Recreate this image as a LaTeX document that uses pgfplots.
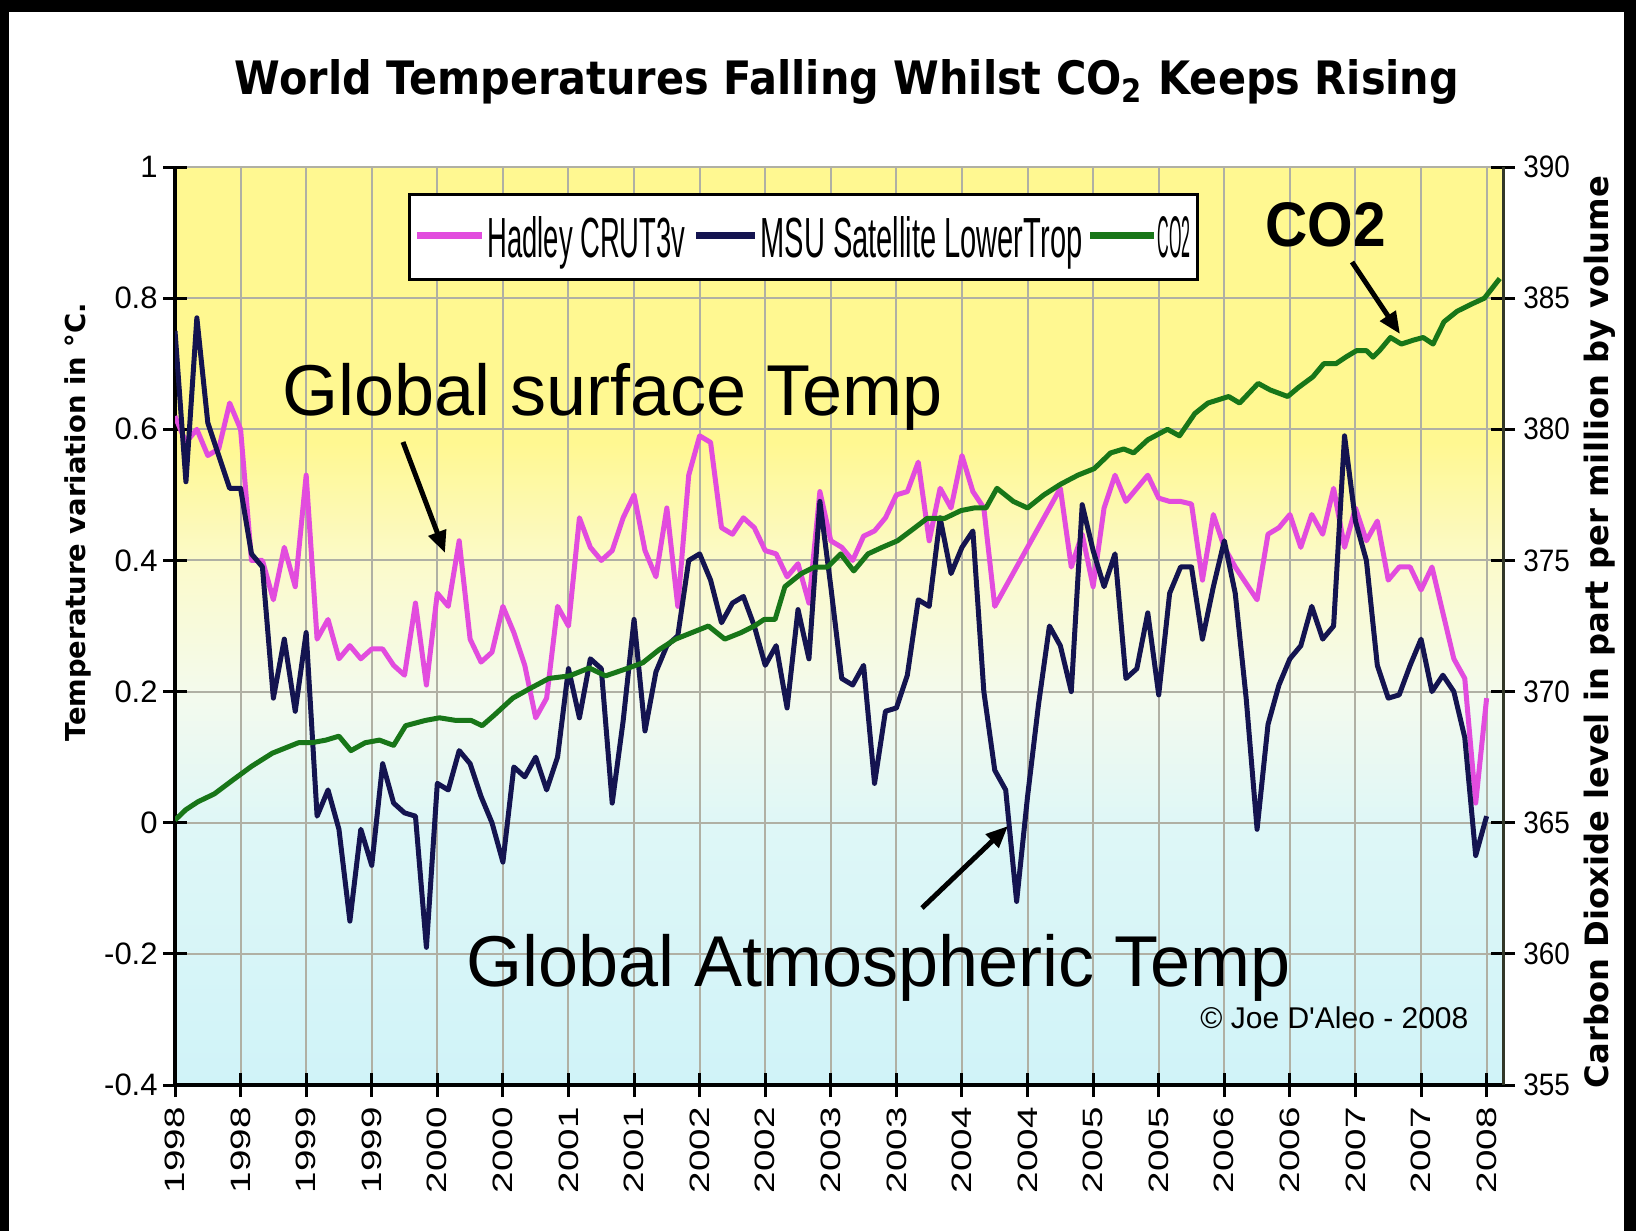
\documentclass[border=0pt]{standalone}
\usepackage{pgfplots}
\pgfplotsset{compat=1.18}
\usepackage{pgfplotstable}
\usepackage{graphicx}
\usepackage{fontspec}
\setmainfont{Liberation Sans}
\newfontfamily\verdana{DejaVu Sans}
\usetikzlibrary{arrows.meta}

\definecolor{hadley}{RGB}{226,76,222}
\definecolor{msu}{RGB}{20,20,80}
\definecolor{cotwo}{RGB}{24,118,24}
\definecolor{gridgray}{RGB}{176,176,164}
\definecolor{raxis}{RGB}{50,55,40}
\definecolor{bgyel}{RGB}{255,248,145}
\definecolor{bgpale}{RGB}{251,250,205}
\definecolor{bgwhite}{RGB}{243,250,238}
\definecolor{bgcyan}{RGB}{222,247,247}
\definecolor{bgcyanb}{RGB}{208,243,248}

\pgfdeclareverticalshading{plotbg}{100bp}{color(0bp)=(bgcyanb); color(25bp)=(bgcyanb); color(39bp)=(bgcyan); color(46bp)=(bgwhite); color(53bp)=(bgpale); color(60bp)=(bgyel); color(75bp)=(bgyel); color(100bp)=(bgyel)}

\newcommand\xl[1]{\scalebox{1.38}[1]{#1}}
\newcommand\rl[1]{\scalebox{0.9}[1]{#1}}

% monthly values, month 0 = Feb 1998
\pgfplotstableread{
m hadley msu
0 0.62 0.75
1 0.58 0.52
2 0.60 0.77
3 0.56 0.61
4 0.57 0.56
5 0.64 0.51
6 0.60 0.51
7 0.40 0.41
8 0.40 0.39
9 0.34 0.19
10 0.42 0.28
11 0.36 0.17
12 0.53 0.29
13 0.28 0.01
14 0.31 0.05
15 0.25 -0.01
16 0.27 -0.15
17 0.25 -0.01
18 0.265 -0.065
19 0.265 0.09
20 0.24 0.03
21 0.225 0.015
22 0.335 0.01
23 0.21 -0.19
24 0.35 0.06
25 0.33 0.05
26 0.43 0.11
27 0.28 0.09
28 0.245 0.04
29 0.26 0.00
30 0.33 -0.06
31 0.29 0.085
32 0.24 0.07
33 0.16 0.10
34 0.19 0.05
35 0.33 0.10
36 0.30 0.235
37 0.465 0.16
38 0.42 0.25
39 0.40 0.235
40 0.415 0.03
41 0.465 0.155
42 0.50 0.31
43 0.415 0.14
44 0.375 0.23
45 0.48 0.27
46 0.33 0.285
47 0.53 0.40
48 0.59 0.41
49 0.58 0.37
50 0.45 0.305
51 0.44 0.335
52 0.465 0.345
53 0.45 0.30
54 0.415 0.24
55 0.41 0.27
56 0.375 0.175
57 0.395 0.325
58 0.335 0.25
59 0.505 0.49
60 0.43 0.36
61 0.42 0.22
62 0.40 0.21
63 0.437 0.24
64 0.445 0.06
65 0.465 0.17
66 0.50 0.175
67 0.505 0.225
68 0.55 0.34
69 0.43 0.33
70 0.51 0.465
71 0.48 0.38
72 0.56 0.42
73 0.505 0.445
74 0.48 0.20
75 0.33 0.08
76 0.36 0.05
77 0.39 -0.12
78 0.42 0.04
79 0.45 0.18
80 0.48 0.30
81 0.51 0.27
82 0.39 0.20
83 0.44 0.485
84 0.36 0.415
85 0.48 0.36
86 0.53 0.41
87 0.49 0.22
88 0.51 0.235
89 0.53 0.32
90 0.495 0.195
91 0.49 0.35
92 0.49 0.39
93 0.486 0.39
94 0.37 0.28
95 0.47 0.36
96 0.42 0.43
97 0.39 0.35
98 0.365 0.19
99 0.34 -0.01
100 0.44 0.15
101 0.45 0.21
102 0.47 0.25
103 0.42 0.27
104 0.47 0.33
105 0.44 0.28
106 0.51 0.30
107 0.42 0.59
108 0.48 0.46
109 0.43 0.40
110 0.46 0.24
111 0.37 0.19
112 0.39 0.195
113 0.39 0.24
114 0.355 0.28
115 0.39 0.20
116 0.32 0.225
117 0.25 0.20
118 0.22 0.13
119 0.03 -0.05
120 0.19 0.01
}\temps

\pgfplotstableread{
m ppm
0 365.1
1 365.5
2.1 365.8
3.6 366.1
5.2 366.6
7 367.15
8.9 367.65
10.1 367.85
11.3 368.05
12.5 368.05
13.8 368.15
15 368.3
16.1 367.75
17.4 368.05
18.7 368.15
20 367.95
21.1 368.7
22.9 368.9
24.2 369.0
25.7 368.9
27.1 368.9
28.1 368.7
29.2 369.1
30.9 369.75
32.4 370.1
34.2 370.5
36.1 370.6
37.9 370.9
39.4 370.6
41.5 370.9
42.8 371.1
44.3 371.6
45.8 372.0
47.3 372.25
48.8 372.5
50.3 372.0
51.8 372.25
53 372.5
53.9 372.75
54.9 372.75
55.8 374.0
57.3 374.5
58.5 374.75
59.7 374.75
60.9 375.25
62.1 374.6
63.4 375.25
64.7 375.5
66.1 375.75
67.7 376.25
68.8 376.6
70.4 376.6
71.9 376.9
73.1 377.0
74.2 377.0
75.2 377.75
76.7 377.25
78 377.0
79.5 377.5
81 377.9
82.6 378.25
84.1 378.5
85.6 379.1
86.8 379.25
87.7 379.1
89 379.6
90.8 380.0
91.9 379.75
93.3 380.6
94.5 381.0
96.4 381.25
97.4 381.0
99.1 381.75
100.2 381.5
101.8 381.25
102.8 381.6
104.1 382.0
105.1 382.5
106.2 382.5
107.1 382.75
108.1 383.0
109 383.0
109.6 382.75
110.2 383.0
111.2 383.5
112.2 383.25
113.3 383.4
114.2 383.5
115.1 383.25
116.1 384.1
117.3 384.5
118.5 384.75
119.8 385.0
121.2 385.75
}\cotwo

\begin{document}
\begin{tikzpicture}
% the frame and the plot background, in pixels of the 1636x1231 picture from its top left
\begin{scope}[x=0.5pt,y=-0.5pt]
\path[use as bounding box] (0,0) rectangle (1636,1231);
\fill[white] (0,0) rectangle (1636,1231);
\fill[black] (0,0) rectangle (1636,12);
\fill[black] (0,0) rectangle (9,1231);
\fill[black] (1624,0) rectangle (1636,1231);
\shade[shading=plotbg] (175,167) rectangle (1503,1085);
\end{scope}

\begin{axis}[
    at={(87.5pt,-542.5pt)}, anchor=south west,
    scale only axis, width=664pt, height=459pt,
    xmin=0, xmax=121.5, ymin=-0.4, ymax=1,
    axis x line*=bottom, axis y line*=left,
    axis line style={black, line width=2pt},
    xtick={0,6,...,120},
    xticklabels={\xl{1998},\xl{1998},\xl{1999},\xl{1999},\xl{2000},\xl{2000},\xl{2001},\xl{2001},\xl{2002},\xl{2002},\xl{2003},\xl{2003},\xl{2004},\xl{2004},\xl{2005},\xl{2005},\xl{2006},\xl{2006},\xl{2007},\xl{2007},\xl{2008}},
    ytick={-0.4,-0.2,0,0.2,0.4,0.6,0.8,1},
    yticklabels={-0.4,-0.2,0,0.2,0.4,0.6,0.8,1},
    tick align=center, major tick length=12pt,
    tick style={black, line width=1.5pt},
    grid=major, major grid style={draw=gridgray, line width=1pt},
    yticklabel shift=2.5pt, xticklabel shift=5pt,
    yticklabel style={font=\fontsize{15.5}{16}\selectfont, anchor=east, inner sep=0pt},
    xticklabel style={font=\fontsize{14}{14}\selectfont, rotate=90, anchor=east, inner sep=0pt},
    line join=round,
]
\addplot[hadley, line width=2.5pt] table[x=m, y=hadley] {\temps};
\addplot[msu, line width=2.5pt] table[x=m, y=msu] {\temps};
\end{axis}

\begin{axis}[
    at={(87.5pt,-542.5pt)}, anchor=south west,
    scale only axis, width=664pt, height=459pt,
    xmin=0, xmax=121.5, ymin=355, ymax=390,
    axis x line=none, axis y line*=right,
    axis line style={raxis, line width=1.5pt},
    ytick={355,360,365,370,375,380,385,390},
    yticklabels={\rl{355},\rl{360},\rl{365},\rl{370},\rl{375},\rl{380},\rl{385},\rl{390}},
    tick align=center, major tick length=12pt,
    tick style={black, line width=1.5pt},
    yticklabel shift=4pt,
    yticklabel style={font=\fontsize{15.5}{16}\selectfont, anchor=west, inner sep=0pt},
    line join=round,
]
\addplot[cotwo, line width=2.5pt] table[x=m, y=ppm] {\cotwo};
\end{axis}

\begin{scope}[x=0.5pt,y=-0.5pt]
% legend
\draw[black, line width=1.5pt, fill=white] (409,194) rectangle (1197,279);
\draw[hadley, line width=3.5pt] (417,235) -- (482,235);
\draw[msu, line width=3.5pt] (696,235) -- (755,235);
\draw[cotwo, line width=3.5pt] (1090,235) -- (1154,235);
\node[anchor=base west, inner sep=0pt] at (487,257) {\resizebox{99pt}{20.5pt}{Hadley CRUT3v}};
\node[anchor=base west, inner sep=0pt] at (760,257) {\resizebox{161pt}{20.5pt}{MSU Satellite LowerTrop}};
\node[anchor=base west, inner sep=0pt] at (1157,257) {\resizebox{16.5pt}{20.5pt}{CO2}};

% titles
\node[anchor=base, inner sep=0pt] at (847,94) {\resizebox{612pt}{17.5pt}{\verdana\bfseries World Temperatures Falling Whilst CO\textsubscript{2} Keeps Rising}};
\node[rotate=90, inner sep=0pt] at (78,522) {\resizebox{219pt}{!}{\verdana\bfseries Temperature variation in °C.}};
\node[rotate=90, inner sep=0pt] at (1600,632) {\resizebox{456pt}{!}{\verdana\bfseries Carbon Dioxide level in part per million by volume}};

% annotations
\node[anchor=base west, inner sep=0pt, font=\fontsize{36}{40}\selectfont] at (282,415) {Global surface Temp};
\node[anchor=base west, inner sep=0pt, font=\fontsize{36}{40}\selectfont] at (466,986) {Global Atmospheric Temp};
\node[anchor=base west, inner sep=0pt, font=\fontsize{31.5}{36}\selectfont\bfseries] at (1265,246) {\scalebox{0.93}[1]{CO2}};
\node[anchor=base west, inner sep=0pt, font=\fontsize{15}{18}\selectfont] at (1200,1028) {\textcopyright\ Joe D\textquotesingle Aleo - 2008};
\draw[-{Triangle[length=11pt,width=9pt]}, line width=2.5pt] (403,442) -- (445,553);
\draw[-{Triangle[length=11pt,width=9pt]}, line width=2.5pt] (922,908) -- (1008,826);
\draw[-{Triangle[length=11pt,width=9pt]}, line width=2.5pt] (1352,262) -- (1400,334);
\end{scope}
\end{tikzpicture}
\end{document}
